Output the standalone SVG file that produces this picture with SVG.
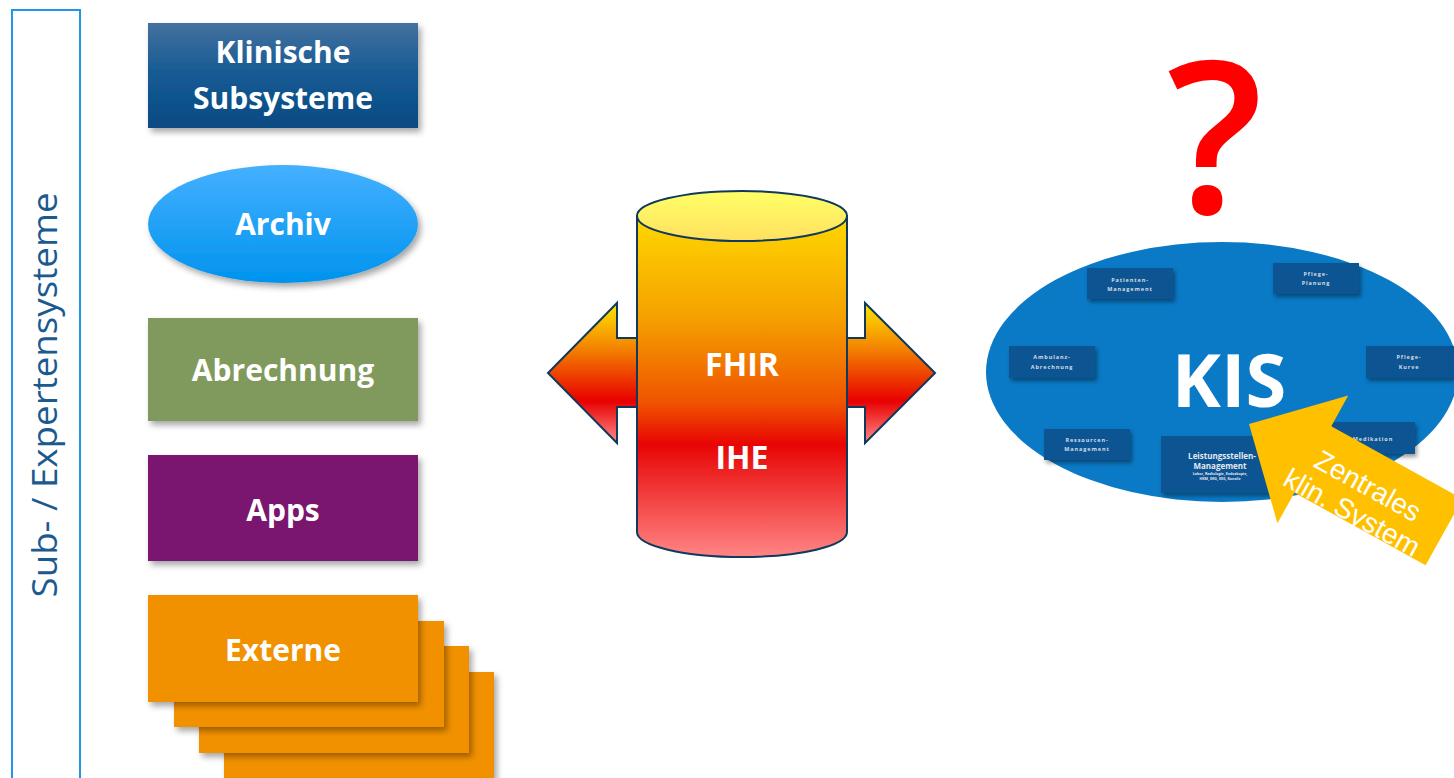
<svg xmlns="http://www.w3.org/2000/svg" width="1454" height="778" viewBox="0 0 1454 778">
<defs>
<filter id="sh" x="-20%" y="-20%" width="150%" height="160%">
<feDropShadow dx="3" dy="4" stdDeviation="3" flood-color="#000" flood-opacity="0.35"/>
</filter>
<filter id="shs" x="-20%" y="-20%" width="150%" height="170%">
<feDropShadow dx="2" dy="3" stdDeviation="2" flood-color="#000" flood-opacity="0.4"/>
</filter>
<linearGradient id="gKlin" x1="0" y1="0" x2="0" y2="1">
<stop offset="0" stop-color="#44709e"/><stop offset="0.5" stop-color="#145a93"/><stop offset="1" stop-color="#0b4a83"/>
</linearGradient>
<linearGradient id="gArch" x1="0" y1="0" x2="0" y2="1">
<stop offset="0" stop-color="#45b0ff"/><stop offset="1" stop-color="#0093ee"/>
</linearGradient>
<linearGradient id="gCyl" x1="0" y1="0" x2="0" y2="1">
<stop offset="0" stop-color="#ffd800"/><stop offset="0.3" stop-color="#f5a000"/><stop offset="0.55" stop-color="#ef5200"/><stop offset="0.67" stop-color="#e80404"/><stop offset="1" stop-color="#ff8585"/>
</linearGradient>
<linearGradient id="gTop" x1="0" y1="0" x2="0" y2="1">
<stop offset="0" stop-color="#ffff66"/><stop offset="1" stop-color="#ffe060"/>
</linearGradient>
<linearGradient id="gArr" x1="0" y1="0" x2="0" y2="1">
<stop offset="0" stop-color="#ffe800"/><stop offset="0.35" stop-color="#f27a00"/><stop offset="0.7" stop-color="#e80000"/><stop offset="1" stop-color="#ff8a8a"/>
</linearGradient>
<style>
.big{font-family:"Open Sans","Liberation Sans",sans-serif;font-weight:700;font-size:30px;fill:#fff;text-anchor:middle}
.sm{font-family:"Open Sans","Liberation Sans",sans-serif;font-weight:700;font-size:5.5px;fill:#d6dde6;text-anchor:middle;letter-spacing:0.9px}
.tiny{font-family:"Open Sans","Liberation Sans",sans-serif;font-weight:700;fill:#e4e9ef;text-anchor:middle}
.kbox{fill:#0b5592}
.cyl{stroke:#10395c;stroke-width:2}
.callout{font-family:"Liberation Sans",Arial,sans-serif;font-size:28px;fill:#fff;text-anchor:middle}
</style>
</defs>
<rect width="1454" height="778" fill="#fff"/>

<g id="frame">
<rect x="12" y="10" width="68" height="775" fill="none" stroke="#2196e8" stroke-width="2"/>
<text transform="translate(57,395) rotate(-90)" text-anchor="middle" font-family="'Open Sans','Liberation Sans',sans-serif" font-weight="400" font-size="35" fill="#1b5a8f" textLength="405" lengthAdjust="spacingAndGlyphs">Sub- / Expertensysteme</text>
</g>

<g id="klinische">
<rect x="148" y="23" width="270" height="105" fill="url(#gKlin)" filter="url(#sh)"/>
<text class="big" x="283" y="63">Klinische</text>
<text class="big" x="283" y="109">Subsysteme</text>
</g>

<g id="archiv">
<ellipse cx="283" cy="224" rx="135" ry="59" fill="url(#gArch)" filter="url(#sh)"/>
<text class="big" x="283" y="235">Archiv</text>
</g>

<g id="abrechnung">
<rect x="148" y="318" width="270" height="103" fill="#7f9a5b" filter="url(#sh)"/>
<text class="big" x="283" y="381">Abrechnung</text>
</g>

<g id="apps">
<rect x="148" y="455" width="270" height="106" fill="#7a156f" filter="url(#sh)"/>
<text class="big" x="283" y="521">Apps</text>
</g>

<g id="externe">
<rect x="224" y="672" width="270" height="120" fill="#f29100" filter="url(#sh)"/>
<rect x="199" y="646" width="270" height="107" fill="#f29100" filter="url(#sh)"/>
<rect x="174" y="621" width="270" height="106" fill="#f29100" filter="url(#sh)"/>
<rect x="148" y="595" width="270" height="107" fill="#f29100" filter="url(#sh)"/>
<text class="big" x="283" y="661">Externe</text>
</g>

<g id="connectors">
<path class="cyl" d="M548,373 L617,303 L617,338 L640,338 L640,407 L617,407 L617,443 Z" fill="url(#gArr)"/>
<path class="cyl" d="M935,373 L865,303 L865,338 L845,338 L845,407 L865,407 L865,443 Z" fill="url(#gArr)"/>
</g>

<g id="fhir">
<path class="cyl" d="M637,216 L637,532 A105,25 0 0 0 847,532 L847,216 Z" fill="url(#gCyl)"/>
<ellipse class="cyl" cx="742" cy="216" rx="105" ry="25" fill="url(#gTop)"/>
<text class="big" x="742" y="376" style="font-size:32px">FHIR</text>
<text class="big" x="742" y="469" style="font-size:32px">IHE</text>
</g>

<g id="question">
<text x="1215" y="213" text-anchor="middle" font-family="'Open Sans','Liberation Sans',sans-serif" font-weight="600" font-size="212" fill="#ff0000">?</text>
</g>

<g id="kis">
<ellipse cx="1222" cy="372" rx="236" ry="130" fill="#0a79c6"/>
<rect class="kbox" x="1087" y="268" width="86" height="31" filter="url(#shs)"/>
<text class="sm" x="1130" y="282">Patienten-</text>
<text class="sm" x="1130" y="291">Management</text>
<rect class="kbox" x="1273" y="263" width="86" height="31" filter="url(#shs)"/>
<text class="sm" x="1316" y="276">Pflege-</text>
<text class="sm" x="1316" y="285">Planung</text>
<rect class="kbox" x="1009" y="346" width="86" height="32" filter="url(#shs)"/>
<text class="sm" x="1052" y="359">Ambulanz-</text>
<text class="sm" x="1052" y="369">Abrechnung</text>
<rect class="kbox" x="1366" y="346" width="88" height="32" filter="url(#shs)"/>
<text class="sm" x="1409" y="359">Pflege-</text>
<text class="sm" x="1409" y="369">Kurve</text>
<rect class="kbox" x="1044" y="429" width="86" height="31" filter="url(#shs)"/>
<text class="sm" x="1087" y="442">Ressourcen-</text>
<text class="sm" x="1087" y="451">Management</text>
<rect class="kbox" x="1332" y="422" width="83" height="32" filter="url(#shs)"/>
<text class="sm" x="1373" y="441">Medikation</text>
<rect class="kbox" x="1161" y="436" width="112" height="57" filter="url(#shs)"/>
<text class="tiny" x="1222" y="459" style="font-size:8px">Leistungsstellen-</text>
<text class="tiny" x="1220" y="469" style="font-size:8px">Management</text>
<text class="tiny" x="1220" y="475" style="font-size:3.6px">Labor, Radiologie, Endoskopie,</text>
<text class="tiny" x="1220" y="480" style="font-size:3.6px">HKM, EKG, EEG,  Konsile</text>
<text class="big" x="1229" y="407" style="font-size:74px">KIS</text>
</g>

<g id="zentrales" transform="translate(1249,424) rotate(29)">
<path d="M0,0 L73,-73 L73,-38 L223,-38 L223,38 L73,38 L73,73 Z" fill="#ffc000"/>
<text class="callout" x="134" y="6">Zentrales</text>
<text class="callout" x="133" y="37">klin. System</text>
</g>
</svg>
